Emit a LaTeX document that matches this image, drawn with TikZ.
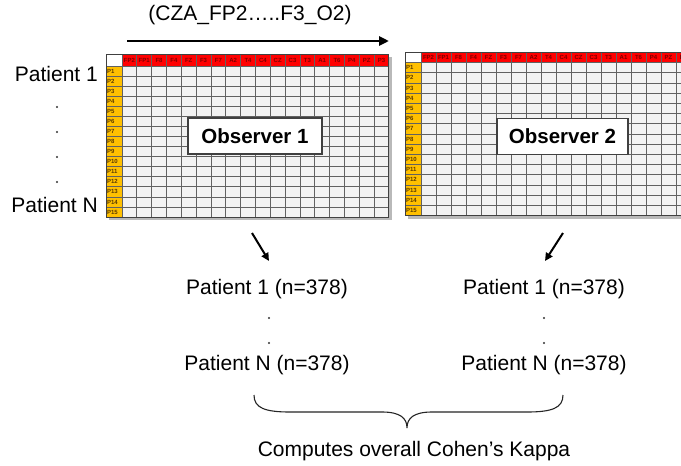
\documentclass[tikz,border=0pt]{standalone}
\usepackage{fontspec}
\setmainfont{Liberation Sans}
\usetikzlibrary{arrows.meta}
\definecolor{hdrred}{HTML}{FF0000}
\definecolor{hdrtxt}{HTML}{7A0000}
\definecolor{rowor}{HTML}{FFC000}
\definecolor{rowtxt}{HTML}{5A3A00}
\definecolor{cellbg}{HTML}{F2F2F2}
\tikzset{
  gridline/.style={draw=black!62, line width=0.8pt},
  tabborder/.style={draw=black!75, line width=1pt},
  hdrlab/.style={font=\fontsize{6}{6}\selectfont\bfseries, text=hdrtxt, inner sep=0pt},
  rowlab/.style={anchor=west, font=\fontsize{6}{6}\selectfont\bfseries, text=rowtxt, inner sep=0.5pt},
  txt/.style={font=\fontsize{21}{24}\selectfont, inner sep=0pt},
  obsbox/.style={draw=black!75, line width=1.3pt, fill=white, minimum width=134pt, minimum height=36pt, inner sep=0pt, font=\fontsize{20.5}{24}\selectfont\bfseries},
  bigarrow/.style={line width=2.8pt, -{Triangle[length=10pt,width=9pt]}},
  downarrow/.style={line width=2pt, -{Triangle[length=8pt,width=7.5pt]}},
  bracestyle/.style={line width=1.1pt, black!85},
  dotmark/.style={fill=black!80}
}
\newcommand\eegtab[7]{%
\begin{scope}
\pgfmathsetmacro\xa{#1}\pgfmathsetmacro\ya{#2}%
\pgfmathsetmacro\xb{#1+#3}\pgfmathsetmacro\yb{#2+#5}%
\pgfmathsetmacro\xe{#1+#3+18*#4}\pgfmathsetmacro\ye{#2+#5+15*#6}%
\fill[gray!55] (\xa+3,\ya+3) rectangle (\xe+3,\ye+3);
\fill[cellbg] (\xa,\ya) rectangle (\xe,\ye);
\fill[white] (\xa,\ya) rectangle (\xb,\yb);
\fill[hdrred] (\xb,\ya) rectangle (\xe,\yb);
\fill[rowor] (\xa,\yb) rectangle (\xb,\ye);
\foreach \k in {0,...,14} \draw[gridline] (\xa,\yb+\k*#6) -- (\xe,\yb+\k*#6);
\foreach \k in {0,...,17} \draw[gridline] (\xb+\k*#4,\ya) -- (\xb+\k*#4,\ye);
\foreach \lab [count=\k] in {FP2,FP1,F8,F4,FZ,F3,F7,A2,T4,C4,CZ,C3,T3,A1,T6,P4,PZ,P3}
  \node[hdrlab] (#7h\k) at (\xb+\k*#4-0.5*#4, \ya+0.5*#5) {\lab};
\foreach \k in {1,...,15}
  \node[rowlab] (#7r\k) at (\xa+0.3, \yb+\k*#6-0.5*#6) {P\k};
\draw[tabborder] (\xa,\ya) rectangle (\xe,\ye);
\end{scope}}
\begin{document}
\begin{tikzpicture}[x=1pt,y=-1pt]
\useasboundingbox (0,0) rectangle (681,466);
\fill[white] (0,0) rectangle (681,466);
% title and top arrow
\node[txt, anchor=base] (title) at (250,20) {(CZA\_FP2…..F3\_O2)};
\coordinate (ta) at (127,41);
\coordinate (tb) at (389,41);
\draw[bigarrow] (ta) -- (tb);
% left labels
\node[txt, anchor=base east] (lp1) at (98,81) {Patient 1};
\node[txt, anchor=base east] (lpN) at (98,212) {Patient N};
\foreach \yy in {107,132,157,182} \fill[dotmark] (57,\yy) circle (1.1);
% tables
\eegtab{106}{54}{16}{14.83}{12}{10.07}{ta}
\begin{scope}
\clip (0,0) rectangle (681,466);
\eegtab{405}{52}{16}{15}{10.5}{10.2}{tb}
\end{scope}
\node[obsbox] (obs1) at (255,136) {Observer 1};
\node[obsbox, minimum width=131pt] (obs2) at (562.5,136.5) {Observer 2};
% down arrows
\coordinate (d1s) at (252,233);
\coordinate (d1e) at (269,261);
\coordinate (d2s) at (563,233);
\coordinate (d2e) at (545,261);
\draw[downarrow] (d1s) -- (d1e);
\draw[downarrow] (d2s) -- (d2e);
% patient lists
\node[txt, anchor=base] (l1) at (267,294) {Patient 1 (n=378)};
\node[txt, anchor=base] (lN) at (267,370) {Patient N (n=378)};
\node[txt, anchor=base] (r1) at (544,294) {Patient 1 (n=378)};
\node[txt, anchor=base] (rN) at (544,370) {Patient N (n=378)};
\foreach \yy in {318,343} {\fill[dotmark] (269,\yy) circle (1.1); \fill[dotmark] (544,\yy) circle (1.1);}
% brace
\draw[bracestyle] (254,395) .. controls (254,408) and (265,412) .. (290,412) -- (382,412)
  .. controls (400,412) and (407,418) .. (407,428)
  .. controls (407,418) and (414,412) .. (432,412) -- (527,412)
  .. controls (552,412) and (563,408) .. (563,395);
\node[txt, anchor=base] (kappa) at (414,456) {Computes overall Cohen’s Kappa};
\end{tikzpicture}
\end{document}
